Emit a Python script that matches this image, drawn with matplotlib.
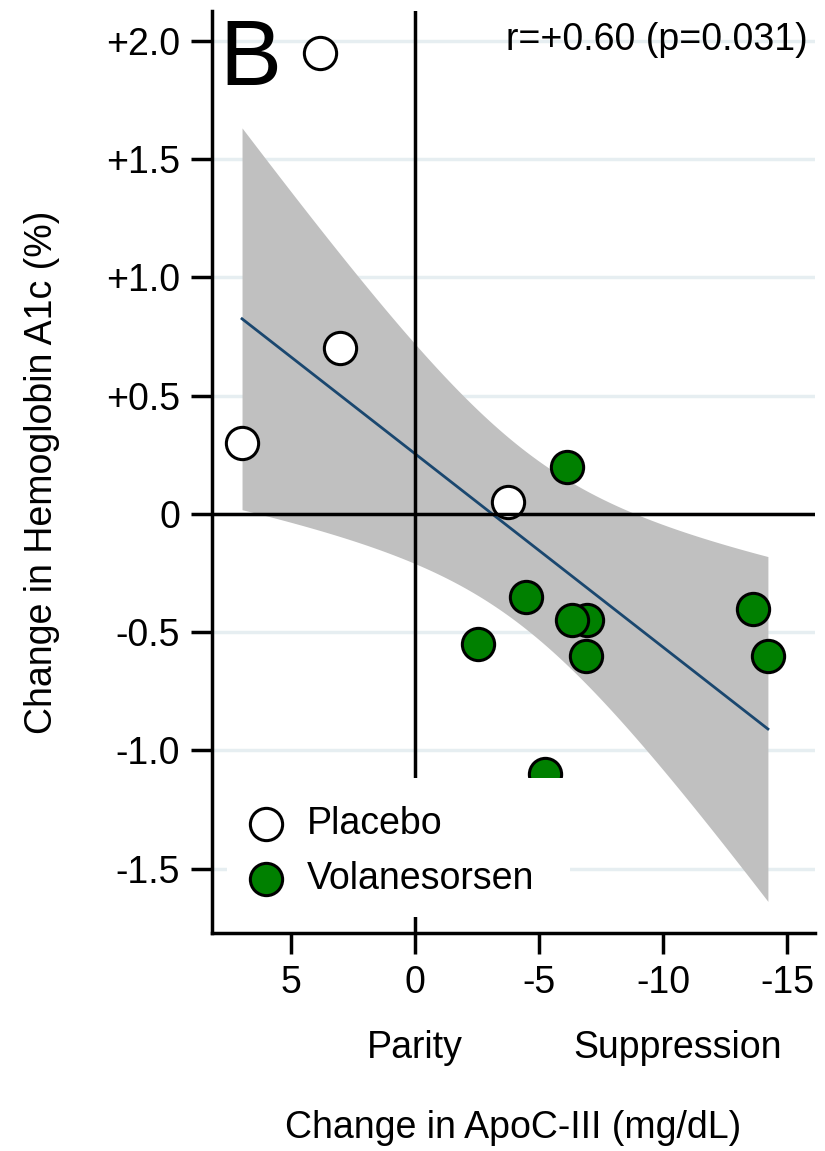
import numpy as np
import matplotlib.pyplot as plt
from matplotlib.patches import Rectangle
from matplotlib.transforms import blended_transform_factory

plt.rcParams['font.family'] = ['Liberation Sans', 'DejaVu Sans']

# change in ApoC-III (mg/dL) and change in HbA1c (%) per patient
placebo_apoc = [3.83, 3.02, 6.98, -3.75]
placebo_a1c = [1.95, 0.70, 0.30, 0.05]
vola_apoc = [-6.13, -4.48, -2.54, -6.94, -6.33, -6.90, -13.63, -14.23, -5.24]
vola_a1c = [0.20, -0.35, -0.55, -0.45, -0.45, -0.60, -0.40, -0.60, -1.10]

x_ticks = [5, 0, -5, -10, -15]
x_ticklabels = ['5', '0', '-5', '-10', '-15']
y_ticks = [2.0, 1.5, 1.0, 0.5, 0, -0.5, -1.0, -1.5]
y_ticklabels = ['+2.0', '+1.5', '+1.0', '+0.5', '0', '-0.5', '-1.0', '-1.5']
stat_label = 'r=+0.60 (p=0.031)'
panel_label = 'B'

# linear fit with 95% confidence band
x_all = np.array(placebo_apoc + vola_apoc)
y_all = np.array(placebo_a1c + vola_a1c)
n = len(x_all)
slope, icpt = np.polyfit(x_all, y_all, 1)
resid = y_all - (slope * x_all + icpt)
s = np.sqrt(np.sum(resid ** 2) / (n - 2))
sxx = np.sum((x_all - x_all.mean()) ** 2)
t_crit = 2.201  # t(0.975, df=11)
xs = np.linspace(x_all.min(), x_all.max(), 200)
yhat = slope * xs + icpt
half = t_crit * s * np.sqrt(1 / n + (xs - x_all.mean()) ** 2 / sxx)

fig = plt.figure(figsize=(8.25, 11.51), dpi=100)
ax = fig.add_axes([0.257, 0.1894, 0.7309, 0.8011])

ax.fill_between(xs, yhat - half, yhat + half, color='#c0c0c0', lw=0, zorder=1)
ax.plot(xs, yhat, color='#1a476f', lw=2, zorder=2)

ax.scatter(placebo_apoc, placebo_a1c, s=540, facecolor='white', edgecolor='black',
           linewidth=2.2, zorder=3, label='Placebo')
ax.scatter(vola_apoc, vola_a1c, s=540, facecolor='#008000', edgecolor='black',
           linewidth=2.2, zorder=3, label='Volanesorsen')

ax.axhline(0, color='black', lw=2.5, zorder=4)
ax.axvline(0, color='black', lw=2.5, zorder=4)

ax.set_xlim(8.19, -16.13)
ax.set_ylim(-1.772, 2.127)
ax.set_xticks(x_ticks)
ax.set_xticklabels(x_ticklabels)
ax.set_yticks(y_ticks)
ax.set_yticklabels(y_ticklabels)
ax.grid(axis='y', color='#e6eef1', lw=2.5)
ax.set_axisbelow(True)

for side in ['top', 'right']:
    ax.spines[side].set_visible(False)
for side in ['left', 'bottom']:
    ax.spines[side].set_linewidth(2.5)
ax.tick_params(direction='out', length=15, width=2.5, labelsize=27, pad=8)

# white box under the legend
ax.add_patch(Rectangle((0.025, 0.0174), 0.569, 0.1506, transform=ax.transAxes,
                       facecolor='white', edgecolor='none', zorder=10))
leg = ax.legend(loc='upper left', bbox_to_anchor=(0.058, 0.138), frameon=False,
                fontsize=27, borderpad=0, handlelength=1.0, handletextpad=0.6,
                labelspacing=0.5, scatterpoints=1, borderaxespad=0)
leg.set_zorder(11)

ax.text(0.012, 0.9197, panel_label, transform=ax.transAxes, fontsize=67,
        ha='left', va='baseline')
ax.text(0.988, 0.9577, stat_label, transform=ax.transAxes, fontsize=27,
        ha='right', va='baseline')

trans = blended_transform_factory(ax.transData, ax.transAxes)
ax.text(0, -0.1247, 'Parity', transform=trans, fontsize=27, ha='center', va='center')
ax.text(-10.6, -0.1247, 'Suppression', transform=trans, fontsize=27, ha='center', va='center')

ax.set_xlabel('Change in ApoC-III (mg/dL)', fontsize=27)
ax.xaxis.set_label_coords(0.5, -0.2115)
ax.set_ylabel('Change in Hemoglobin A1c (%)', fontsize=27)
ax.yaxis.set_label_coords(-0.282, 0.5)
ax.xaxis.label.set_va('center')
ax.yaxis.label.set_va('center')

fig.savefig('out.png', dpi=100)
